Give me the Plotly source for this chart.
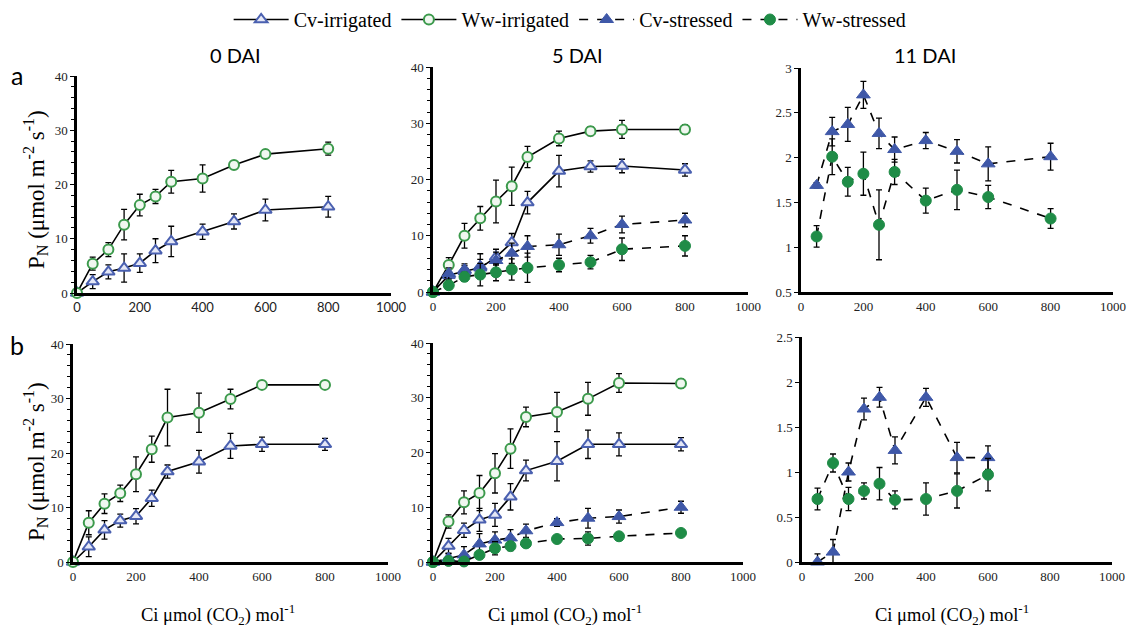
import plotly.graph_objects as go

W, H = 1129, 634

# ---- data -------------------------------------------------------------
ci_full = [0, 50, 100, 150, 200, 250, 300, 400, 500, 600, 800]
ci_11 = [50, 100, 150, 200, 250, 300, 400, 500, 600, 800]
ci_b11 = [50, 100, 150, 200, 250, 300, 400, 500, 600]

# row a, 0 DAI
a0_cv_irr = [0, 2.1, 3.9, 4.6, 5.5, 7.8, 9.5, 11.3, 13.2, 15.3, 15.9]
a0_cv_irr_err = [0, 1.3, 1.3, 2.6, 1.7, 2.2, 2.8, 1.4, 1.4, 2.0, 1.9]
a0_ww_irr = [0, 5.4, 8.0, 12.6, 16.2, 17.8, 20.5, 21.1, 23.6, 25.6, 26.6]
a0_ww_irr_err = [0, 1.2, 1.3, 2.8, 2.0, 1.3, 2.1, 2.5, 0.5, 0.8, 1.2]

# row a, 5 DAI
a5_cv_irr = [0, 3.0, 3.7, 4.3, 6.2, 8.8, 15.9, 21.5, 22.3, 22.4, 21.7]
a5_cv_irr_err = [0, 1.0, 1.0, 1.5, 1.4, 1.6, 2.0, 2.8, 1.0, 1.2, 1.1]
a5_ww_irr = [0, 4.8, 10.0, 13.1, 16.1, 18.8, 24.0, 27.3, 28.6, 28.9, 28.9]
a5_ww_irr_err = [0, 1.3, 2.2, 2.1, 3.8, 3.4, 1.9, 1.3, 0.8, 1.6, 0.8]
a5_cv_str = [0, 3.3, 4.0, 4.6, 5.6, 6.9, 8.1, 8.4, 10.0, 12.0, 12.8]
a5_cv_str_err = [0, 1.0, 1.0, 2.2, 1.5, 1.8, 1.9, 1.9, 1.3, 1.5, 1.2]
a5_ww_str = [0, 1.2, 2.7, 3.1, 3.5, 4.0, 4.3, 4.8, 5.3, 7.6, 8.2]
a5_ww_str_err = [0, 0.5, 0.8, 2.0, 1.5, 1.9, 2.6, 1.2, 1.2, 2.0, 1.8]

# row a, 11 DAI
a11_cv_str = [1.69, 2.29, 2.37, 2.70, 2.27, 2.09, 2.19, 2.07, 1.93, 2.01]
a11_cv_str_err = [0.03, 0.16, 0.19, 0.15, 0.17, 0.14, 0.09, 0.13, 0.19, 0.15]
a11_ww_str = [1.12, 2.01, 1.73, 1.82, 1.25, 1.84, 1.52, 1.64, 1.56, 1.32]
a11_ww_str_err = [0.12, 0.20, 0.16, 0.24, 0.39, 0.14, 0.14, 0.22, 0.13, 0.11]

# row b, 0 DAI
b0_cv_irr = [0, 2.8, 5.9, 7.6, 8.4, 11.7, 16.6, 18.4, 21.3, 21.6, 21.6]
b0_cv_irr_err = [0, 1.8, 1.7, 1.2, 1.4, 1.5, 1.2, 2.1, 2.3, 1.3, 1.1]
b0_ww_irr = [0, 7.2, 10.7, 12.6, 16.1, 20.7, 26.5, 27.4, 29.9, 32.5, 32.5]
b0_ww_irr_err = [0, 2.2, 1.8, 1.5, 3.2, 2.4, 5.2, 3.6, 1.8, 0.6, 0.6]

# row b, 5 DAI
b5_cv_irr = [0, 2.9, 5.8, 7.7, 8.6, 11.9, 16.7, 18.4, 21.5, 21.5, 21.5]
b5_cv_irr_err = [0, 1.4, 1.3, 2.1, 2.1, 2.4, 1.9, 3.6, 2.6, 2.1, 1.2]
b5_ww_irr = [0, 7.4, 10.9, 12.6, 16.2, 20.7, 26.5, 27.4, 29.8, 32.7, 32.6]
b5_ww_irr_err = [0, 1.2, 2.1, 3.2, 3.6, 3.6, 1.8, 3.6, 3.0, 1.7, 0.8]
b5_cv_str = [0, 0.7, 1.3, 3.3, 4.0, 4.4, 5.7, 7.2, 8.0, 8.3, 10.0]
b5_cv_str_err = [0, 0.9, 1.5, 1.9, 1.5, 1.5, 1.2, 0.7, 1.8, 1.2, 1.1]
b5_ww_str = [0, 0.2, 0.1, 1.3, 2.5, 2.9, 3.4, 4.2, 4.3, 4.7, 5.3]
b5_ww_str_err = [0, 0.3, 0.3, 0.6, 1.2, 0.8, 0.5, 0.3, 1.2, 0.5, 0.6]

# row b, 11 DAI
b11_cv_str = [0.0, 0.11, 1.0, 1.70, 1.83, 1.24, 1.83, 1.16, 1.16]
b11_cv_str_err = [0.09, 0.14, 0.10, 0.12, 0.11, 0.15, 0.10, 0.17, 0.13]
b11_ww_str = [0.70, 1.10, 0.70, 0.79, 0.87, 0.69, 0.70, 0.79, 0.97]
b11_ww_str_err = [0.12, 0.10, 0.13, 0.09, 0.18, 0.10, 0.18, 0.19, 0.18]

x_ticks = [0, 200, 400, 600, 800, 1000]
panel_titles = ["0 DAI", "5 DAI", "11 DAI"]
series_names = ["Cv-irrigated", "Ww-irrigated", "Cv-stressed", "Ww-stressed"]

# ---- styles -----------------------------------------------------------
BLUE = "#3f58a8"
GREEN = "#1f8c47"
SERIF = "Liberation Serif, Times New Roman, serif"
SANS = "Lato, Open Sans, sans-serif"

styles = {
    "Cv-irrigated": dict(dash="solid", marker=dict(symbol="triangle-up", size=11, color="#e4e7f6",
                                                  line=dict(color="#4a60b0", width=2))),
    "Ww-irrigated": dict(dash="solid", marker=dict(symbol="circle", size=10, color="#f0f7f0",
                                                  line=dict(color="#3c9a4c", width=2))),
    "Cv-stressed": dict(dash="dash", marker=dict(symbol="triangle-up", size=12, color=BLUE,
                                                 line=dict(color=BLUE, width=1))),
    "Ww-stressed": dict(dash="dash", marker=dict(symbol="circle", size=11, color=GREEN,
                                                 line=dict(color=GREEN, width=1))),
}


def xd(left, right):
    return [left / W, right / W]


def yd(top, bottom):
    return [1 - bottom / H, 1 - top / H]


# panel geometry (pixel extents of the axes)
panels = [
    dict(x=xd(77, 391), y=yd(76, 293), yr=[0, 40], dt=10, minor=2, xfont=SANS),
    dict(x=xd(433, 748), y=yd(67, 292), yr=[0, 40], dt=10, minor=2, xfont=SERIF),
    dict(x=xd(801, 1113), y=yd(68, 292), yr=[0.5, 3], dt=0.5, minor=None, xfont=SERIF),
    dict(x=xd(73, 388), y=yd(344, 562), yr=[0, 40], dt=10, minor=2, xfont=SERIF),
    dict(x=xd(433, 743), y=yd(343, 562), yr=[0, 40], dt=10, minor=2, xfont=SERIF),
    dict(x=xd(802, 1112), y=yd(337, 562), yr=[0, 2.5], dt=0.5, minor=None, xfont=SERIF),
]

panel_series = [
    [("Cv-irrigated", ci_full, a0_cv_irr, a0_cv_irr_err), ("Ww-irrigated", ci_full, a0_ww_irr, a0_ww_irr_err)],
    [("Cv-irrigated", ci_full, a5_cv_irr, a5_cv_irr_err), ("Ww-irrigated", ci_full, a5_ww_irr, a5_ww_irr_err),
     ("Cv-stressed", ci_full, a5_cv_str, a5_cv_str_err), ("Ww-stressed", ci_full, a5_ww_str, a5_ww_str_err)],
    [("Cv-stressed", ci_11, a11_cv_str, a11_cv_str_err), ("Ww-stressed", ci_11, a11_ww_str, a11_ww_str_err)],
    [("Cv-irrigated", ci_full, b0_cv_irr, b0_cv_irr_err), ("Ww-irrigated", ci_full, b0_ww_irr, b0_ww_irr_err)],
    [("Cv-irrigated", ci_full, b5_cv_irr, b5_cv_irr_err), ("Ww-irrigated", ci_full, b5_ww_irr, b5_ww_irr_err),
     ("Cv-stressed", ci_full, b5_cv_str, b5_cv_str_err), ("Ww-stressed", ci_full, b5_ww_str, b5_ww_str_err)],
    [("Cv-stressed", ci_b11, b11_cv_str, b11_cv_str_err), ("Ww-stressed", ci_b11, b11_ww_str, b11_ww_str_err)],
]

fig = go.Figure()
shown = set()
for i, series in enumerate(panel_series):
    ax = "" if i == 0 else str(i + 1)
    for name, xs, ys, es in series:
        st = styles[name]
        fig.add_trace(go.Scatter(
            x=xs, y=ys, name=name, mode="lines+markers",
            xaxis="x" + ax, yaxis="y" + ax,
            line=dict(color="black", width=1.6, dash=st["dash"]),
            marker=st["marker"],
            error_y=dict(type="data", array=es, color="black", thickness=1.3, width=3),
            legendgroup=name, showlegend=name not in shown,
            legendrank=series_names.index(name),
            cliponaxis=False,
        ))
        shown.add(name)

layout = dict(
    width=W, height=H, autosize=False,
    margin=dict(l=0, r=0, t=0, b=0, autoexpand=False),
    plot_bgcolor="white", paper_bgcolor="white",
    showlegend=True,
    legend=dict(orientation="h", x=0.505, xanchor="center", y=1.0, yanchor="top",
                font=dict(family=SERIF, size=20, color="black"),
                itemwidth=55, tracegroupgap=0, bgcolor="rgba(0,0,0,0)"),
)

for i, p in enumerate(panels):
    k = "" if i == 0 else str(i + 1)
    yaxis = dict(domain=p["y"], range=p["yr"], dtick=p["dt"], anchor="x" + k,
                 showline=True, linecolor="black", linewidth=2.5, showgrid=False, zeroline=False,
                 ticks="outside", ticklen=4, tickwidth=1, tickcolor="black",
                 tickfont=dict(family=SERIF, size=13, color="#222"))
    if p["minor"]:
        yaxis["minor"] = dict(dtick=p["minor"], ticks="outside", ticklen=3, tickcolor="black", tickwidth=1)
    xaxis = dict(domain=p["x"], range=[0, 1000], tickvals=x_ticks, anchor="y" + k,
                 showline=True, linecolor="black", linewidth=3, showgrid=False, zeroline=False,
                 ticks="", tickfont=dict(family=p["xfont"], size=13, color="#222"))
    layout["xaxis" + k] = xaxis
    layout["yaxis" + k] = yaxis

fig.update_layout(**layout)


def note(text, px, py, font, **kw):
    return dict(text=text, x=px / W, y=1 - py / H, xref="paper", yref="paper",
                xanchor="center", yanchor="middle", showarrow=False, font=font, **kw)


annotations = []
for title, cx in zip(panel_titles, [235, 577, 925]):
    annotations.append(note(title, cx, 55, dict(family=SANS, size=20, color="black")))
for letter, py in [("a", 75), ("b", 345)]:
    annotations.append(note(letter, 17, py, dict(family=SANS, size=25, color="black")))
pn_label = "P<sub>N</sub> (μmol m<sup>-2</sup> s<sup>-1</sup>)"
for cy in [190, 462]:
    annotations.append(note(pn_label, 35, cy, dict(family=SERIF, size=23, color="black"), textangle=-90))
ci_label = "Ci μmol (CO<sub>2</sub>) mol<sup>-1</sup>"
for cx in [218, 565, 952]:
    annotations.append(note(ci_label, cx, 614, dict(family=SERIF, size=18.5, color="black")))
fig.update_layout(annotations=annotations)

fig.write_html("out.html")
